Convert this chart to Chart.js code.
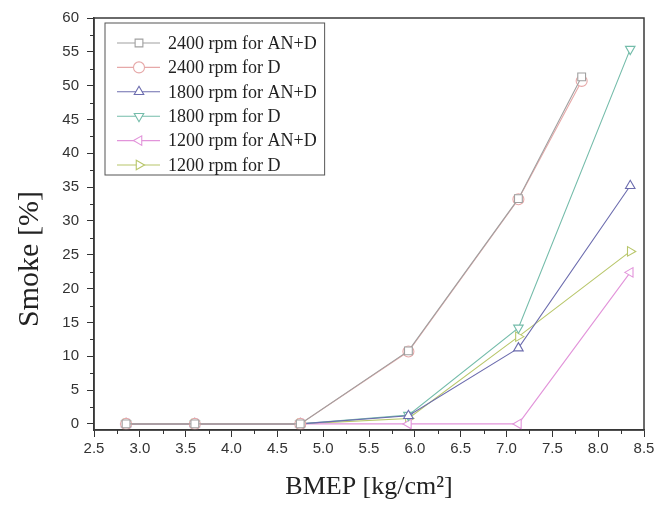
<!DOCTYPE html>
<html>
<head>
<meta charset="utf-8">
<script src="https://cdn.jsdelivr.net/npm/chart.js@4/dist/chart.umd.min.js"></script>
<style>
    body { margin: 0; background: #fff; }
</style>
</head>
<body>
<canvas id="smoke-chart" width="667" height="511"></canvas>
<script>
// BMEP positions where smoke was measured
var bmep2400 = [2.85, 3.6, 4.75, 5.93, 7.13, 7.82];
var bmepLow = [2.85, 3.6, 4.75, 5.93, 7.13, 8.35];

var seriesNames = [
    "2400 rpm for AN+D",
    "2400 rpm for D",
    "1800 rpm for AN+D",
    "1800 rpm for D",
    "1200 rpm for AN+D",
    "1200 rpm for D",
];

var smoke2400AND = [0, 0, 0, 10.8, 33.3, 51.3];
var smoke2400D = [0, 0, 0, 10.7, 33.2, 50.7];
var smoke1800AND = [0, 0, 0, 1.2, 11.2, 35.2];
var smoke1800D = [0, 0, 0, 1.3, 14.2, 55.4];
var smoke1200AND = [0, 0, 0, 0, 0, 22.4];
var smoke1200D = [0, 0, 0, 0.8, 12.9, 25.5];

var xTicks = [2.5, 3.0, 3.5, 4.0, 4.5, 5.0, 5.5, 6.0, 6.5, 7.0, 7.5, 8.0, 8.5];
var yTicks = [0, 5, 10, 15, 20, 25, 30, 35, 40, 45, 50, 55, 60];

var colors = ["#a0a0a0", "#e6a8a8", "#6c6cae", "#74bcaa", "#e294da", "#b8c66a"];
var markers = [
    { style: "rect", rot: 0 },
    { style: "circle", rot: 0 },
    { style: "triangle", rot: 0 },
    { style: "triangle", rot: 180 },
    { style: "triangle", rot: 270 },
    { style: "triangle", rot: 90 },
];

function pairs(xs, ys) {
    return xs.map((x, i) => ({ x: x, y: ys[i] }));
}

var allData = [
    pairs(bmep2400, smoke2400AND),
    pairs(bmep2400, smoke2400D),
    pairs(bmepLow, smoke1800AND),
    pairs(bmepLow, smoke1800D),
    pairs(bmepLow, smoke1200AND),
    pairs(bmepLow, smoke1200D),
];

var datasets = seriesNames.map((name, i) => ({
    label: name,
    data: allData[i],
    borderColor: colors[i],
    backgroundColor: "#fff",
    borderWidth: 1.1,
    pointStyle: markers[i].style,
    rotation: markers[i].rot,
    pointRadius: 5.5,
    pointBorderWidth: 1.1,
    tension: 0,
}));

// every half step gets a tick; only the whole ones get a label
function withMinor(list) {
    let out = [];
    for (let i = 0; i < list.length; i++) {
        out.push({ value: list[i], major: true });
        if (i < list.length - 1) {
            out.push({ value: (list[i] + list[i + 1]) / 2, major: false });
        }
    }
    return out;
}

function majorOnly(ctx) {
    return ctx.tick && ctx.tick.major ? "#333" : "rgba(0,0,0,0)";
}

const framePlugin = {
    id: "frame",
    afterDraw(chart) {
        const ctx = chart.ctx;
        const a = chart.chartArea;
        const xs = chart.scales.x, ys = chart.scales.y;
        ctx.save();
        ctx.strokeStyle = "#3a3a3a";
        ctx.lineWidth = 1.5;
        ctx.strokeRect(a.left, a.top, a.right - a.left, a.bottom - a.top);

        // short minor ticks
        ctx.strokeStyle = "#333";
        ctx.lineWidth = 1;
        ctx.beginPath();
        xs.ticks.forEach(t => {
            if (t.major) return;
            const px = Math.round(xs.getPixelForValue(t.value)) + 0.5;
            ctx.moveTo(px, a.bottom);
            ctx.lineTo(px, a.bottom + 4);
        });
        ys.ticks.forEach(t => {
            if (t.major) return;
            const py = Math.round(ys.getPixelForValue(t.value)) + 0.5;
            ctx.moveTo(a.left, py);
            ctx.lineTo(a.left - 4, py);
        });
        ctx.stroke();

        // y title sits a bit below the middle of the axis, like the original
        ctx.translate(30, 259);
        ctx.rotate(-Math.PI / 2);
        ctx.font = "30px 'Liberation Serif'";
        ctx.fillStyle = "#222";
        ctx.textAlign = "center";
        ctx.textBaseline = "middle";
        ctx.fillText("Smoke [%]", 0, 0);
        ctx.restore();
    },
};

const boxLegend = {
    id: "boxLegend",
    afterDraw(chart) {
        const ctx = chart.ctx;
        ctx.save();
        ctx.font = "18px 'Liberation Serif'";
        let maxW = 0;
        seriesNames.forEach(n => { maxW = Math.max(maxW, ctx.measureText(n).width); });
        const left = 105, top = 23, rowH = 24.4;
        const right = 168 + maxW + 8;
        ctx.strokeStyle = "#555";
        ctx.lineWidth = 1;
        ctx.strokeRect(left, top, right - left, 152);
        chart.data.datasets.forEach((ds, i) => {
            const y = 43 + i * rowH;
            ctx.strokeStyle = ds.borderColor;
            ctx.lineWidth = 1.1;
            ctx.beginPath();
            ctx.moveTo(117, y);
            ctx.lineTo(160, y);
            ctx.stroke();
            ctx.fillStyle = "#fff";
            Chart.helpers.drawPoint(ctx, {
                pointStyle: ds.pointStyle,
                rotation: ds.rotation,
                radius: 5.5,
                borderWidth: 1.1,
            }, 139, y);
            ctx.fillStyle = "#222";
            ctx.textBaseline = "middle";
            ctx.textAlign = "left";
            ctx.fillText(ds.label, 168, y + 1);
        });
        ctx.restore();
    },
};

new Chart(document.getElementById("smoke-chart"), {
    type: "line",
    data: { datasets: datasets },
    plugins: [framePlugin, boxLegend],
    options: {
        responsive: false,
        animation: false,
        layout: { padding: { top: 18, right: 23, left: 0, bottom: 0 } },
        plugins: {
            legend: { display: false },
            tooltip: { enabled: false },
        },
        scales: {
            x: {
                type: "linear",
                min: 2.5,
                max: 8.5,
                afterFit: (s) => { s.height = 81; },
                afterBuildTicks: (s) => { s.ticks = withMinor(xTicks); },
                grid: {
                    drawOnChartArea: false,
                    tickLength: 7,
                    tickColor: majorOnly,
                },
                border: { color: "#333", width: 1.5 },
                ticks: {
                    padding: 3,
                    color: "#333",
                    font: { family: "'Liberation Sans'", size: 15 },
                    maxRotation: 0,
                    autoSkip: false,
                    callback: function(v, i, ticks) {
                        return ticks[i].major ? Number(v).toFixed(1) : "";
                    },
                },
                title: {
                    display: true,
                    text: "BMEP [kg/cm\u00b2]",
                    color: "#222",
                    font: { family: "'Liberation Serif'", size: 26 },
                    padding: { top: 0, bottom: 8 },
                },
            },
            y: {
                min: -0.9,
                max: 60,
                afterFit: (s) => { s.width = 94; },
                afterBuildTicks: (s) => { s.ticks = withMinor(yTicks); },
                grid: {
                    drawOnChartArea: false,
                    tickLength: 7,
                    tickColor: majorOnly,
                },
                border: { color: "#333", width: 1.5 },
                ticks: {
                    padding: 8,
                    color: "#333",
                    font: { family: "'Liberation Sans'", size: 15 },
                    autoSkip: false,
                    callback: function(v, i, ticks) {
                        return ticks[i].major ? String(v) : "";
                    },
                },
                title: { display: false },
            },
        },
    },
});
</script>
</body>
</html>
